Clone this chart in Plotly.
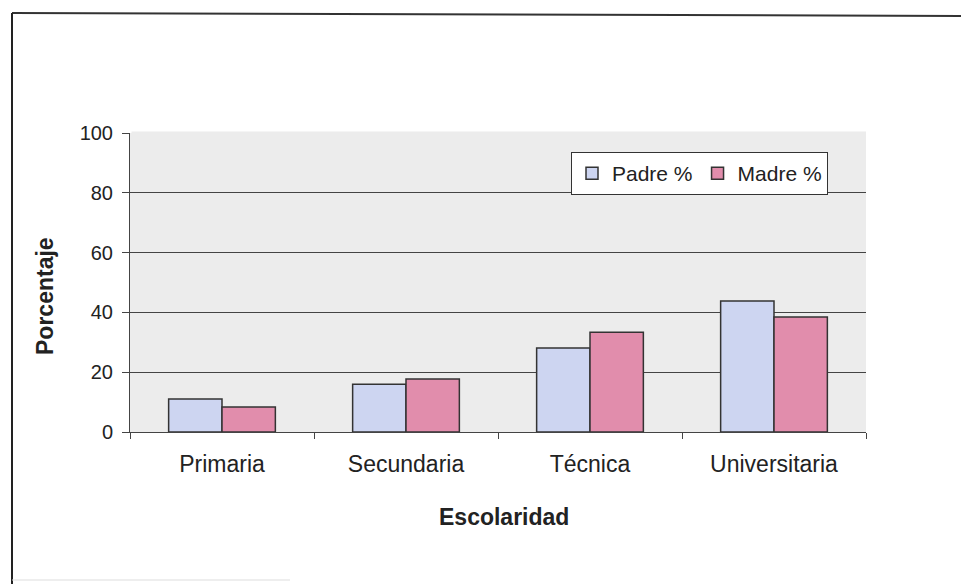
import plotly.graph_objects as go

categories = ["Primaria", "Secundaria", "Técnica", "Universitaria"]
padre = [11.0, 16.0, 28.1, 43.8]
madre = [8.4, 17.7, 33.4, 38.5]
y_ticks = [0, 20, 40, 60, 80, 100]

FONT = "Liberation Sans, Arial, sans-serif"
TXT = "#222222"
PLOT_BG = "#ECECEC"

fig = go.Figure()
fig.add_trace(go.Bar(
    name="Padre %", x=categories, y=padre,
    marker=dict(color="#CDD5F1", line=dict(color="#333333", width=1.5)),
))
fig.add_trace(go.Bar(
    name="Madre %", x=categories, y=madre,
    marker=dict(color="#E18DAC", line=dict(color="#333333", width=1.5)),
))

# page has an 8px body margin, so the figure is drawn at (8, 8)
OFF = 8
W, H = 969 - OFF, 584 - OFF
PL, PR, PT, PB = 130, 866, 133, 432  # plot area in window pixels
L, R, T, B = PL - OFF, W - (PR - OFF), PT - OFF, H - (PB - OFF)
pw, ph = PR - PL, PB - PT

def px(x):
    return (x - PL) / pw

def py(y):
    return (PB - y) / ph

fig.update_layout(
    width=W, height=H,
    margin=dict(l=L, r=R, t=T, b=B),
    paper_bgcolor="white",
    plot_bgcolor=PLOT_BG,
    barmode="group",
    bargap=0.42,
    bargroupgap=0,
    font=dict(family=FONT, size=22, color=TXT),
    showlegend=True,
    legend=dict(
        orientation="h",
        x=px(571), y=py(152), xanchor="left", yanchor="top",
        bgcolor="white", bordercolor="#333333", borderwidth=1,
        font=dict(family=FONT, size=21, color=TXT),
        itemwidth=30,
        tracegroupgap=0,
    ),
    xaxis=dict(
        showline=True, linecolor="#444444", linewidth=1,
        ticks="outside", ticklen=6, tickcolor="#444444",
        tickson="boundaries",
        showgrid=False,
        tickfont=dict(family=FONT, size=23, color=TXT),
        ticklabelstandoff=11,
    ),
    yaxis=dict(
        range=[0, 100],
        tickvals=y_ticks,
        showline=True, linecolor="#444444", linewidth=1,
        ticks="outside", ticklen=7, tickcolor="#444444",
        showgrid=True, gridcolor="#444444", gridwidth=1,
        zeroline=False,
        tickfont=dict(family=FONT, size=20, color=TXT),
        ticklabelstandoff=5,
    ),
    shapes=[
        # hide top gridline at 100
        dict(type="line", xref="paper", yref="paper", x0=0.002, x1=1, y0=1, y1=1,
             line=dict(color=PLOT_BG, width=3), layer="between"),
        # outer frame (top and left)
        dict(type="line", xref="paper", yref="paper", x0=px(12), x1=px(969), y0=py(13), y1=py(16),
             line=dict(color="#333333", width=2), layer="above"),
        dict(type="line", xref="paper", yref="paper", x0=px(12), x1=px(12), y0=py(13), y1=py(584),
             line=dict(color="#222222", width=2), layer="above"),
        dict(type="line", xref="paper", yref="paper", x0=px(12), x1=px(290), y0=py(580), y1=py(580),
             line=dict(color="#DDDDDD", width=1), layer="above"),
    ],
    annotations=[
        dict(text="<b>Escolaridad</b>", xref="paper", yref="paper",
             x=px(504), y=py(517), xanchor="center", yanchor="middle",
             showarrow=False, font=dict(family=FONT, size=23, color=TXT)),
        dict(text="<b>Porcentaje</b>", xref="paper", yref="paper",
             x=px(45), y=py(296), xanchor="center", yanchor="middle",
             textangle=-90, showarrow=False, font=dict(family=FONT, size=23, color=TXT)),
    ],
)

fig.write_html("out.html")
